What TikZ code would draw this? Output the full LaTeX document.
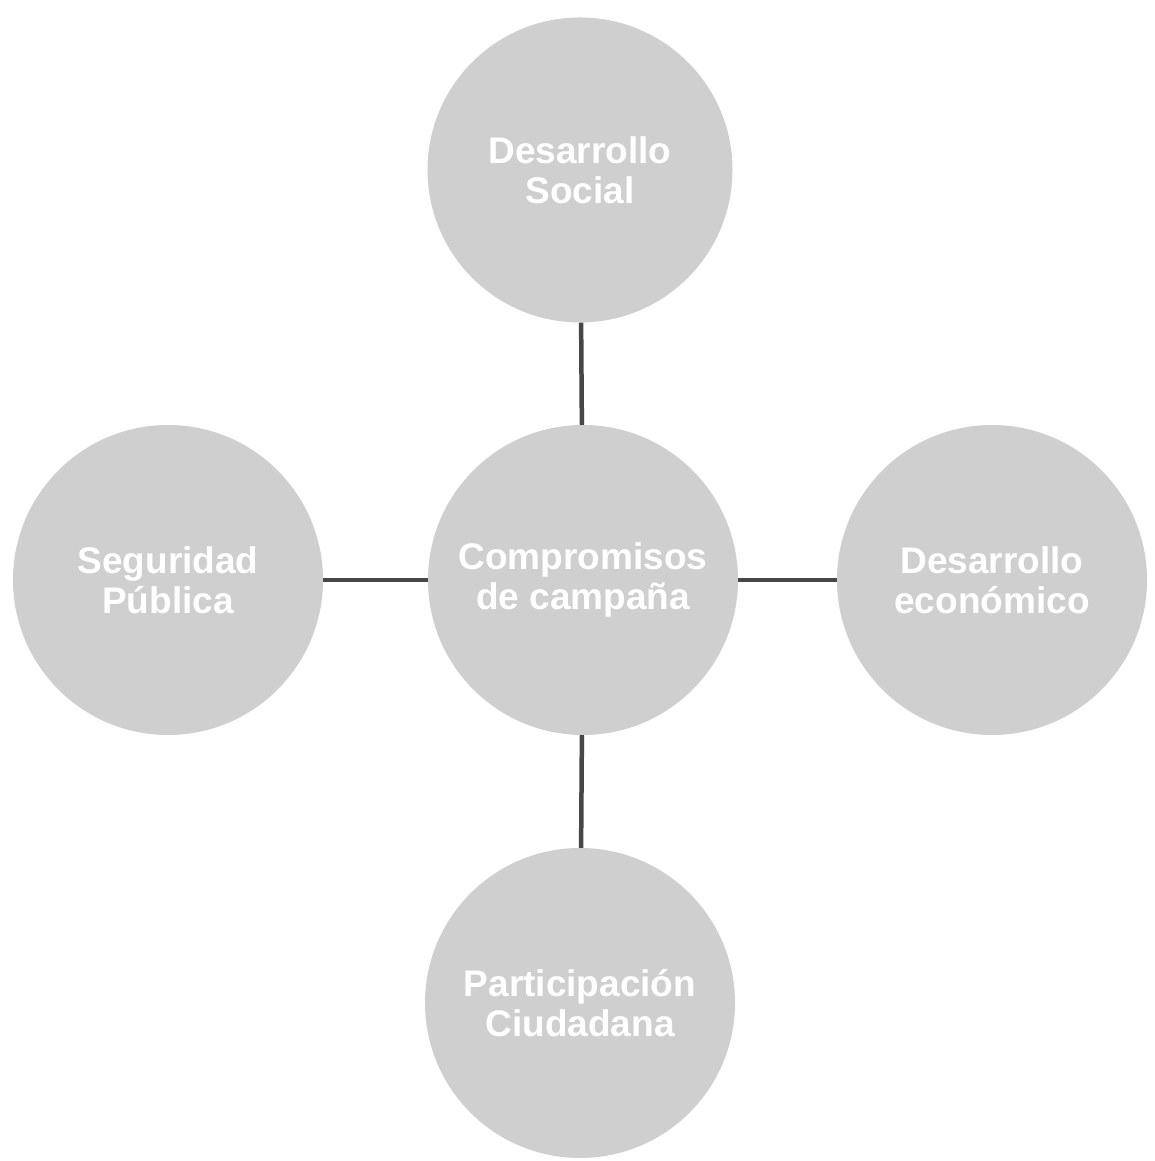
\documentclass[tikz,border=0pt]{standalone}
\usepackage{fontspec}
\setmainfont{Liberation Sans}
\begin{document}
\begin{tikzpicture}[x=1pt,y=1pt,
  bubble/.style={circle, fill=black!19, minimum size=#1, inner sep=0pt,
    text=white, font=\fontsize{37}{40}\selectfont\bfseries, align=center},
  link/.style={draw=black!72, line width=4.5pt}]
\useasboundingbox (0,0) rectangle (1154,1161);
\node[bubble=305pt] (top) at (580,991) {Desarrollo\\Social};
\node[bubble=310pt] (mid) at (583,581) {Compromisos\\de campaña};
\node[bubble=310pt] (left) at (168,581) {Seguridad\\Pública};
\node[bubble=310pt] (right) at (992,581) {Desarrollo\\económico};
\node[bubble=310pt] (bot) at (580,158) {Participación\\Ciudadana};
\draw[link] (top) -- (mid);
\draw[link] (mid) -- (bot);
\draw[link] (left) -- (mid);
\draw[link] (mid) -- (right);
\end{tikzpicture}
\end{document}
